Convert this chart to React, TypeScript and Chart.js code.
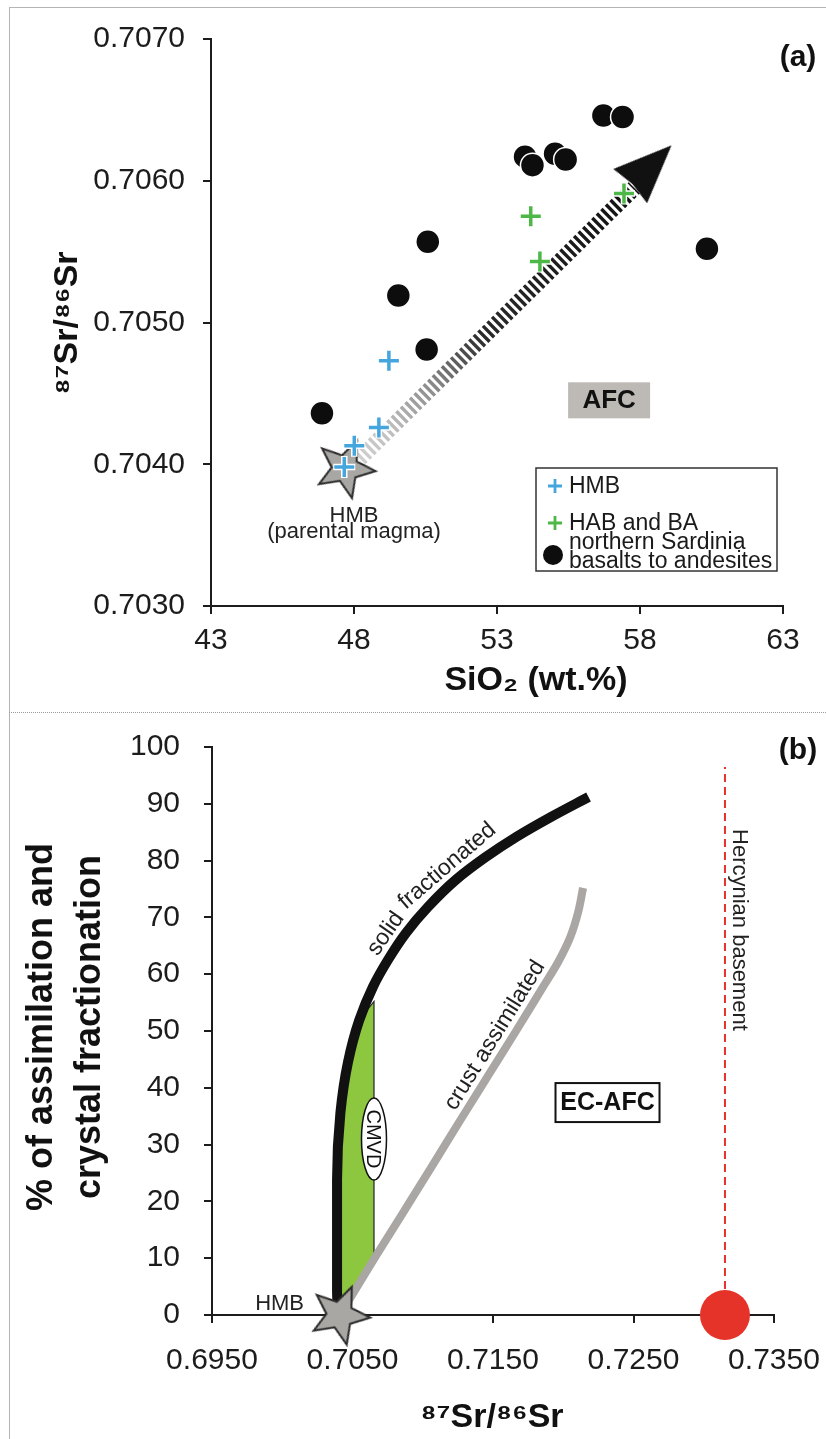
import React, { useEffect, useRef } from 'react';
import { Chart, registerables } from 'chart.js';

Chart.register(...registerables);

/* ---------------- panel (a) data ---------------- */
const A_X_TICKS = [43, 48, 53, 58, 63];
const A_Y_TICKS = [0.703, 0.704, 0.705, 0.706, 0.707];

const HMB_SIO2 = [49.22, 48.87, 48.01, 47.66];
const HMB_SR = [0.70473, 0.70426, 0.70413, 0.70398];

const HABBA_SIO2 = [54.18, 54.5, 57.44];
const HABBA_SR = [0.70575, 0.70543, 0.70591];

const SARD_SIO2 = [56.72, 57.39, 53.98, 54.24, 55.03, 55.4, 60.34, 50.58, 49.55, 50.54, 46.88];
const SARD_SR = [0.70646, 0.70645, 0.70617, 0.70611, 0.70619, 0.70615, 0.70552, 0.70557, 0.70519, 0.70481, 0.70436];

const PARENT_SIO2 = [47.69];
const PARENT_SR = [0.70397];

const AFC_SIO2 = [48.2, 57.8];
const AFC_SR = [0.70404, 0.70595];
const AFC_HEAD_SIO2 = [58.38];
const AFC_HEAD_SR = [0.706106];

/* ---------------- panel (b) data ---------------- */
const B_X_TICKS = [0.695, 0.705, 0.715, 0.725, 0.735];
const B_Y_TICKS = [0, 10, 20, 30, 40, 50, 60, 70, 80, 90, 100];

const SOLID_SR = [0.70397, 0.7039, 0.7039, 0.7039, 0.70414, 0.70467, 0.70548, 0.70646, 0.70752, 0.70882, 0.71036, 0.71235, 0.71447, 0.71668, 0.71914, 0.7218];
const SOLID_PCT = [0, 4.4, 11.4, 23.8, 35.6, 44.4, 51.9, 57.8, 62.5, 67.3, 71.8, 76.6, 80.6, 84.2, 87.7, 91.2];

const CRUST_SR = [0.70411, 0.70475, 0.70667, 0.70867, 0.71066, 0.71265, 0.71464, 0.71664, 0.71842, 0.71963, 0.72048, 0.72105, 0.72141];
const CRUST_PCT = [0, 2.6, 10.4, 18.3, 26.2, 34.2, 42.1, 50.0, 57.2, 62.1, 66.4, 70.8, 75.2];

const CMVD_SR = [0.70397, 0.7039, 0.7039, 0.70414, 0.70467, 0.70548, 0.70653, 0.70653, 0.70475];
const CMVD_PCT = [1.5, 11.4, 23.8, 35.6, 44.4, 51.9, 55.2, 10.0, 2.6];

const HMB_B_SR = [0.7041];
const HMB_B_PCT = [0];

const HERC_SR = [0.73151, 0.73151];
const HERC_PCT = [0, 96.5];
const HERC_PT_SR = [0.73151];
const HERC_PT_PCT = [0];

/* ---------------- annotation anchors (data coords) ---------------- */
const ANNOT = {
  afcLabel: { x: 56.92, y: 0.704451 },
  hmbA: { x: 48.0, y: 0.703592 },
  ecafc: { x: 0.72315, y: 37.4 },
  cmvd: { x: 0.70653, y: 31.0 },
  herc: { x: 0.7321, y: 67.8 },
  hmbB: { x: 0.70155, y: 0.9 },
  solidStart: 62,
  crustStart: 35,
};

/* ---------------- styles ---------------- */
const FONT = '"Liberation Sans", Arial, Helvetica, sans-serif';
const INK = '#1c1c1c';
const BLUE = '#45a5dd';
const GREEN = '#4db848';

function zip(xs: number[], ys: number[]) {
  return xs.map((x, i) => ({ x, y: ys[i] }));
}

function makeStar(R: number, r: number, fill: string, stroke: string, lw: number) {
  const s = Math.ceil(2 * (R + lw + 2));
  const c = document.createElement('canvas');
  c.width = s;
  c.height = s;
  const g = c.getContext('2d')!;
  g.translate(s / 2, s / 2);
  g.beginPath();
  for (let i = 0; i < 10; i++) {
    const a = -Math.PI / 2 + (i * Math.PI) / 5;
    const rad = i % 2 === 0 ? R : r;
    g.lineTo(rad * Math.cos(a), rad * Math.sin(a));
  }
  g.closePath();
  g.fillStyle = fill;
  g.fill();
  g.lineWidth = lw;
  g.lineJoin = 'miter';
  g.strokeStyle = stroke;
  g.stroke();
  return c;
}

function makeHead(len: number, halfW: number, color: string) {
  const s = Math.ceil(Math.max(len, 2 * halfW)) + 4;
  const c = document.createElement('canvas');
  c.width = s;
  c.height = s;
  const g = c.getContext('2d')!;
  g.translate(s / 2, s / 2);
  g.beginPath();
  g.moveTo(0, -len / 2);
  g.lineTo(halfW, len / 2);
  g.lineTo(0, len / 2 - 3);
  g.lineTo(-halfW, len / 2);
  g.closePath();
  g.fillStyle = color;
  g.fill();
  return c;
}

function scaleCfg(min: number, max: number, ticks: number[], fmt: (v: number) => string, padding: number, fit: (s: any) => void) {
  return {
    type: 'linear',
    min,
    max,
    afterBuildTicks: (s: any) => {
      s.ticks = ticks.map((v) => ({ value: v }));
    },
    afterFit: (s: any) => {
      fit(s);
      s.paddingLeft = 0;
      s.paddingRight = 0;
      s.paddingTop = 0;
      s.paddingBottom = 0;
    },
    ticks: {
      font: { family: FONT, size: 30 },
      color: INK,
      padding,
      autoSkip: false,
      maxRotation: 0,
      minRotation: 0,
      callback: (v: any) => fmt(Number(v)),
    },
    grid: { display: true, drawOnChartArea: false, drawTicks: true, tickLength: 8, color: INK, lineWidth: 2 },
    border: { display: true, color: INK, width: 2 },
  };
}

function arrowPix(chart: any) {
  const { x, y } = chart.scales;
  return {
    x0: x.getPixelForValue(AFC_SIO2[0]),
    y0: y.getPixelForValue(AFC_SR[0]),
    x1: x.getPixelForValue(AFC_SIO2[1]),
    y1: y.getPixelForValue(AFC_SR[1]),
  };
}

/* ---------- text along a path, word by word ---------- */
function arcLengths(pts: any[]) {
  const L = [0];
  for (let i = 1; i < pts.length; i++) L.push(L[i - 1] + Math.hypot(pts[i].x - pts[i - 1].x, pts[i].y - pts[i - 1].y));
  return L;
}
function pointAt(pts: any[], L: number[], d: number) {
  let i = 0;
  while (i < pts.length - 2 && d > L[i + 1]) i++;
  const seg = L[i + 1] - L[i] || 1;
  const t = (d - L[i]) / seg;
  return { x: pts[i].x + (pts[i + 1].x - pts[i].x) * t, y: pts[i].y + (pts[i + 1].y - pts[i].y) * t };
}
function arcAtPixelY(pts: any[], L: number[], yp: number) {
  for (let i = 0; i < pts.length - 1; i++) {
    const a = pts[i].y - yp;
    const b = pts[i + 1].y - yp;
    if (a * b <= 0 && a !== b) {
      const t = a / (a - b);
      return L[i] + t * (L[i + 1] - L[i]);
    }
  }
  return 0;
}
function wordsOnPath(ctx: any, pts: any[], text: string, startD: number, offset: number, gap: number) {
  const L = arcLengths(pts);
  const sp = ctx.measureText(' ').width * gap;
  let d = startD;
  for (const w of text.split(' ')) {
    const wd = ctx.measureText(w).width;
    const a = pointAt(pts, L, d);
    const b = pointAt(pts, L, d + wd);
    const m = pointAt(pts, L, d + wd / 2);
    const ang = Math.atan2(b.y - a.y, b.x - a.x);
    const nx = Math.sin(ang);
    const ny = -Math.cos(ang);
    const cm = { x: (a.x + b.x) / 2, y: (a.y + b.y) / 2 };
    const pm = (m.x - cm.x) * nx + (m.y - cm.y) * ny > 0 ? m : cm;
    ctx.save();
    ctx.translate(pm.x + nx * offset, pm.y + ny * offset);
    ctx.rotate(ang);
    ctx.textAlign = 'center';
    ctx.textBaseline = 'alphabetic';
    ctx.fillText(w, 0, 0);
    ctx.restore();
    d += wd + sp;
  }
}

/* ---------------- panel (a) ---------------- */
const panelAPlugin = {
  id: 'panelAAnnot',
  afterDraw(chart: any) {
    const { ctx, scales } = chart;
    const { x, y } = scales;
    ctx.save();
    // AFC label
    const ax = x.getPixelForValue(ANNOT.afcLabel.x);
    const ay = y.getPixelForValue(ANNOT.afcLabel.y);
    ctx.fillStyle = '#bdb9b5';
    ctx.fillRect(ax - 41, ay - 18, 82, 36);
    ctx.fillStyle = '#111';
    ctx.font = `bold 26px ${FONT}`;
    ctx.textAlign = 'center';
    ctx.textBaseline = 'middle';
    ctx.fillText('AFC', ax, ay + 1);

    // HMB (parental magma)
    const hx = x.getPixelForValue(ANNOT.hmbA.x);
    const hy = y.getPixelForValue(ANNOT.hmbA.y);
    ctx.font = `22px ${FONT}`;
    ctx.fillStyle = '#222';
    ctx.textBaseline = 'alphabetic';
    ctx.fillText('HMB', hx, hy);
    ctx.fillText('(parental magma)', hx, hy + 16);

    // legend
    const lx = 536, ly = 468, lw = 241, lh = 103;
    ctx.fillStyle = '#fff';
    ctx.fillRect(lx, ly, lw, lh);
    ctx.strokeStyle = '#333';
    ctx.lineWidth = 1.5;
    ctx.strokeRect(lx, ly, lw, lh);
    const cross = (cx: number, cy: number, col: string) => {
      ctx.strokeStyle = col;
      ctx.lineWidth = 2.8;
      ctx.beginPath();
      ctx.moveTo(cx - 7, cy);
      ctx.lineTo(cx + 7, cy);
      ctx.moveTo(cx, cy - 7);
      ctx.lineTo(cx, cy + 7);
      ctx.stroke();
    };
    cross(555, 486, BLUE);
    cross(555, 523, GREEN);
    ctx.fillStyle = '#0d0d0d';
    ctx.beginPath();
    ctx.arc(553, 555, 10, 0, Math.PI * 2);
    ctx.fill();
    ctx.fillStyle = '#1a1a1a';
    ctx.font = `23px ${FONT}`;
    ctx.textAlign = 'left';
    ctx.textBaseline = 'middle';
    ctx.fillText('HMB', 569, 487);
    ctx.fillText('HAB and BA', 569, 524);
    ctx.fillText('northern Sardinia', 569, 543);
    ctx.fillText('basalts to andesites', 569, 562);

    // panel letter
    ctx.fillStyle = '#111';
    ctx.font = `bold 30px ${FONT}`;
    ctx.textAlign = 'center';
    ctx.fillText('(a)', 798, 58);

    // axis titles
    ctx.font = `bold 34px ${FONT}`;
    ctx.textBaseline = 'alphabetic';
    ctx.fillText('SiO\u2082 (wt.%)', 536, 690);
    ctx.save();
    ctx.translate(77, 323);
    ctx.rotate(-Math.PI / 2);
    ctx.fillText('\u2078\u2077Sr/\u2078\u2076Sr', 0, 0);
    ctx.restore();
    ctx.restore();
  },
};

function PanelA() {
  const ref = useRef<HTMLCanvasElement>(null);
  useEffect(() => {
    const star = makeStar(30.5, 13.5, '#a9a7a4', '#2b2b2b', 2);
    const head = makeHead(58, 24, '#111');
    const chart = new Chart(ref.current as any, {
      type: 'scatter',
      data: {
        datasets: [
          {
            label: 'northern Sardinia basalts to andesites',
            data: zip(SARD_SIO2, SARD_SR),
            pointStyle: 'circle',
            pointRadius: 12,
            pointBackgroundColor: '#0d0d0d',
            pointBorderColor: '#ffffff',
            pointBorderWidth: 1.5,
            order: 0,
            clip: false,
          },
          {
            label: 'HMB',
            data: zip(HMB_SIO2, HMB_SR),
            pointStyle: 'cross',
            pointRadius: 10,
            pointBorderColor: BLUE,
            pointBorderWidth: 3.5,
            order: 1,
            clip: false,
          },
          {
            label: 'HAB and BA',
            data: zip(HABBA_SIO2, HABBA_SR),
            pointStyle: 'cross',
            pointRadius: 10,
            pointBorderColor: GREEN,
            pointBorderWidth: 3.5,
            order: 2,
            clip: false,
          },
          {
            label: 'halo',
            data: [...zip(HMB_SIO2, HMB_SR), ...zip(HABBA_SIO2, HABBA_SR)],
            pointStyle: 'cross',
            pointRadius: 11,
            pointBorderColor: '#ffffff',
            pointBorderWidth: 6.5,
            order: 3,
            clip: false,
          },
          {
            label: 'HMB (parental magma)',
            data: zip(PARENT_SIO2, PARENT_SR),
            pointStyle: star,
            pointRadius: 10,
            pointRotation: 23,
            order: 4,
            clip: false,
          },
          {
            label: 'AFC head',
            data: zip(AFC_HEAD_SIO2, AFC_HEAD_SR),
            pointStyle: head,
            pointRadius: 10,
            pointRotation: (c: any) => {
              const p = arrowPix(c.chart);
              return (Math.atan2(p.x1 - p.x0, -(p.y1 - p.y0)) * 180) / Math.PI;
            },
            order: 5,
            clip: false,
          },
          {
            type: 'line',
            label: 'AFC',
            data: zip(AFC_SIO2, AFC_SR),
            borderColor: (c: any) => {
              const ch = c.chart;
              if (!ch.chartArea || !ch.scales.x) return '#111';
              const p = arrowPix(ch);
              const g = ch.ctx.createLinearGradient(p.x0, p.y0, p.x1, p.y1);
              g.addColorStop(0, '#d0d0d0');
              g.addColorStop(0.12, '#bcbcbc');
              g.addColorStop(0.28, '#858585');
              g.addColorStop(0.45, '#2a2a2a');
              g.addColorStop(1, '#111111');
              return g;
            },
            borderWidth: 16,
            borderDash: [3.4, 3],
            borderCapStyle: 'butt',
            pointRadius: 0,
            fill: false,
            order: 6,
            clip: false,
          } as any,
        ],
      },
      options: {
        responsive: false,
        animation: false,
        events: [],
        layout: { padding: { top: 39, right: 43, left: 0, bottom: 0 } },
        plugins: { legend: { display: false }, tooltip: { enabled: false } },
        scales: {
          x: scaleCfg(43, 63, A_X_TICKS, (v) => String(v), 9, (s: any) => {
            s.height = 712 - 606;
          }),
          y: scaleCfg(0.703, 0.707, A_Y_TICKS, (v) => v.toFixed(4), 18, (s: any) => {
            s.width = 211;
          }),
        } as any,
      },
      plugins: [panelAPlugin],
    } as any);
    return () => chart.destroy();
  }, []);
  return <canvas ref={ref} width={826} height={712} style={{ position: 'absolute', left: 0, top: 0 }} />;
}

/* ---------------- panel (b) ---------------- */
const panelBPlugin = {
  id: 'panelBAnnot',
  afterDraw(chart: any) {
    const { ctx, scales } = chart;
    const { x, y } = scales;
    ctx.save();

    // text along the curves
    ctx.fillStyle = '#222';
    ctx.font = `23px ${FONT}`;
    const solidPts = chart.getDatasetMeta(2).data.map((p: any) => ({ x: p.x, y: p.y }));
    const crustPts = chart.getDatasetMeta(3).data.map((p: any) => ({ x: p.x, y: p.y }));
    const Ls = arcLengths(solidPts);
    wordsOnPath(ctx, solidPts, 'solid fractionated', arcAtPixelY(solidPts, Ls, y.getPixelForValue(ANNOT.solidStart)), 10, 0.6);
    const Lc = arcLengths(crustPts);
    wordsOnPath(ctx, crustPts, 'crust assimilated', arcAtPixelY(crustPts, Lc, y.getPixelForValue(ANNOT.crustStart)), 9, 1);

    // CMVD ellipse
    const ex = x.getPixelForValue(ANNOT.cmvd.x);
    const ey = y.getPixelForValue(ANNOT.cmvd.y);
    ctx.beginPath();
    ctx.ellipse(ex, ey, 12.5, 41, 0, 0, Math.PI * 2);
    ctx.fillStyle = '#fff';
    ctx.fill();
    ctx.lineWidth = 1.5;
    ctx.strokeStyle = '#111';
    ctx.stroke();
    ctx.save();
    ctx.translate(ex, ey);
    ctx.rotate(Math.PI / 2);
    ctx.fillStyle = '#111';
    ctx.font = `20px ${FONT}`;
    ctx.textAlign = 'center';
    ctx.textBaseline = 'middle';
    ctx.fillText('CMVD', 0, 1);
    ctx.restore();

    // EC-AFC box
    const bx = x.getPixelForValue(ANNOT.ecafc.x);
    const by = y.getPixelForValue(ANNOT.ecafc.y);
    ctx.fillStyle = '#fff';
    ctx.fillRect(bx - 52, by - 19.5, 104, 39);
    ctx.strokeStyle = '#111';
    ctx.lineWidth = 2;
    ctx.strokeRect(bx - 52, by - 19.5, 104, 39);
    ctx.fillStyle = '#111';
    ctx.font = `bold 25px ${FONT}`;
    ctx.textAlign = 'center';
    ctx.textBaseline = 'middle';
    ctx.fillText('EC-AFC', bx, by + 1);

    // Hercynian basement
    const hx = x.getPixelForValue(ANNOT.herc.x);
    const hy = y.getPixelForValue(ANNOT.herc.y);
    ctx.save();
    ctx.translate(hx, hy);
    ctx.rotate(Math.PI / 2);
    ctx.fillStyle = '#222';
    ctx.font = `22px ${FONT}`;
    ctx.textAlign = 'center';
    ctx.textBaseline = 'alphabetic';
    ctx.fillText('Hercynian basement', 0, 0);
    ctx.restore();

    // HMB
    ctx.fillStyle = '#222';
    ctx.font = `22px ${FONT}`;
    ctx.textAlign = 'right';
    ctx.textBaseline = 'alphabetic';
    ctx.fillText('HMB', x.getPixelForValue(ANNOT.hmbB.x), y.getPixelForValue(ANNOT.hmbB.y));

    // panel letter
    ctx.fillStyle = '#111';
    ctx.font = `bold 30px ${FONT}`;
    ctx.textAlign = 'center';
    ctx.textBaseline = 'middle';
    ctx.fillText('(b)', 798, 39);

    // axis titles
    ctx.font = `bold 34px ${FONT}`;
    ctx.textBaseline = 'alphabetic';
    ctx.fillText('\u2078\u2077Sr/\u2078\u2076Sr', 492, 715);
    ctx.font = `bold 36px ${FONT}`;
    ctx.textBaseline = 'middle';
    ctx.save();
    ctx.translate(42, 315);
    ctx.rotate(-Math.PI / 2);
    ctx.fillText('% of assimilation and', 0, 0);
    ctx.restore();
    ctx.save();
    ctx.translate(90, 315);
    ctx.rotate(-Math.PI / 2);
    ctx.fillText('crystal fractionation', 0, 0);
    ctx.restore();

    ctx.restore();
  },
};

function PanelB() {
  const ref = useRef<HTMLCanvasElement>(null);
  useEffect(() => {
    const star = makeStar(30.5, 13.5, '#a9a7a4', '#2b2b2b', 2);
    const chart = new Chart(ref.current as any, {
      type: 'scatter',
      data: {
        datasets: [
          {
            label: 'Hercynian basement',
            data: zip(HERC_PT_SR, HERC_PT_PCT),
            pointStyle: 'circle',
            pointRadius: 25,
            pointBackgroundColor: '#e5332a',
            pointBorderWidth: 0,
            order: 0,
            clip: false,
          },
          {
            label: 'HMB',
            data: zip(HMB_B_SR, HMB_B_PCT),
            pointStyle: star,
            pointRadius: 10,
            pointRotation: 23,
            order: 1,
            clip: false,
          },
          {
            type: 'line',
            label: 'solid fractionated',
            data: zip(SOLID_SR, SOLID_PCT),
            indexAxis: 'y',
            cubicInterpolationMode: 'monotone',
            borderColor: '#111111',
            borderWidth: 10,
            borderCapStyle: 'butt',
            borderJoinStyle: 'round',
            pointRadius: 0,
            fill: false,
            order: 2,
            clip: false,
          },
          {
            type: 'line',
            label: 'crust assimilated',
            data: zip(CRUST_SR, CRUST_PCT),
            indexAxis: 'y',
            cubicInterpolationMode: 'monotone',
            borderColor: '#aaa6a3',
            borderWidth: 8,
            borderCapStyle: 'butt',
            pointRadius: 0,
            fill: false,
            order: 3,
            clip: false,
          },
          {
            type: 'line',
            label: 'CMVD',
            data: zip(CMVD_SR, CMVD_PCT),
            indexAxis: 'y',
            borderColor: '#222222',
            borderWidth: 1.2,
            backgroundColor: '#8dc63f',
            fill: 'shape',
            tension: 0,
            pointRadius: 0,
            order: 4,
          },
          {
            type: 'line',
            label: 'Hercynian basement line',
            data: zip(HERC_SR, HERC_PCT),
            borderColor: '#e5332a',
            borderWidth: 2,
            borderDash: [8, 5],
            pointRadius: 0,
            fill: false,
            order: 5,
          },
        ] as any,
      },
      options: {
        responsive: false,
        animation: false,
        events: [],
        layout: { padding: { top: 35, right: 52, left: 0, bottom: 0 } },
        plugins: { legend: { display: false }, tooltip: { enabled: false } },
        scales: {
          x: scaleCfg(0.695, 0.735, B_X_TICKS, (v) => v.toFixed(4), 20, (s: any) => {
            s.height = 124;
          }),
          y: scaleCfg(0, 100, B_Y_TICKS, (v) => String(Math.round(v)), 24, (s: any) => {
            s.width = 212;
          }),
        } as any,
      },
      plugins: [panelBPlugin],
    } as any);
    return () => chart.destroy();
  }, []);
  return <canvas ref={ref} width={826} height={727} style={{ position: 'absolute', left: 0, top: 712 }} />;
}

export default function App() {
  return (
    <div style={{ position: 'absolute', left: 0, top: 0, width: 826, height: 1439, background: '#fff', overflow: 'hidden' }}>
      <PanelA />
      <PanelB />
      <div style={{ position: 'absolute', left: 9, top: 7, right: 0, height: 0, borderTop: '1px solid #b4b4b4' }} />
      <div style={{ position: 'absolute', left: 9, top: 7, bottom: 0, width: 0, borderLeft: '1px solid #b4b4b4' }} />
      <div style={{ position: 'absolute', left: 9, top: 712, right: 0, height: 0, borderTop: '1px dotted #9a9a9a' }} />
    </div>
  );
}
